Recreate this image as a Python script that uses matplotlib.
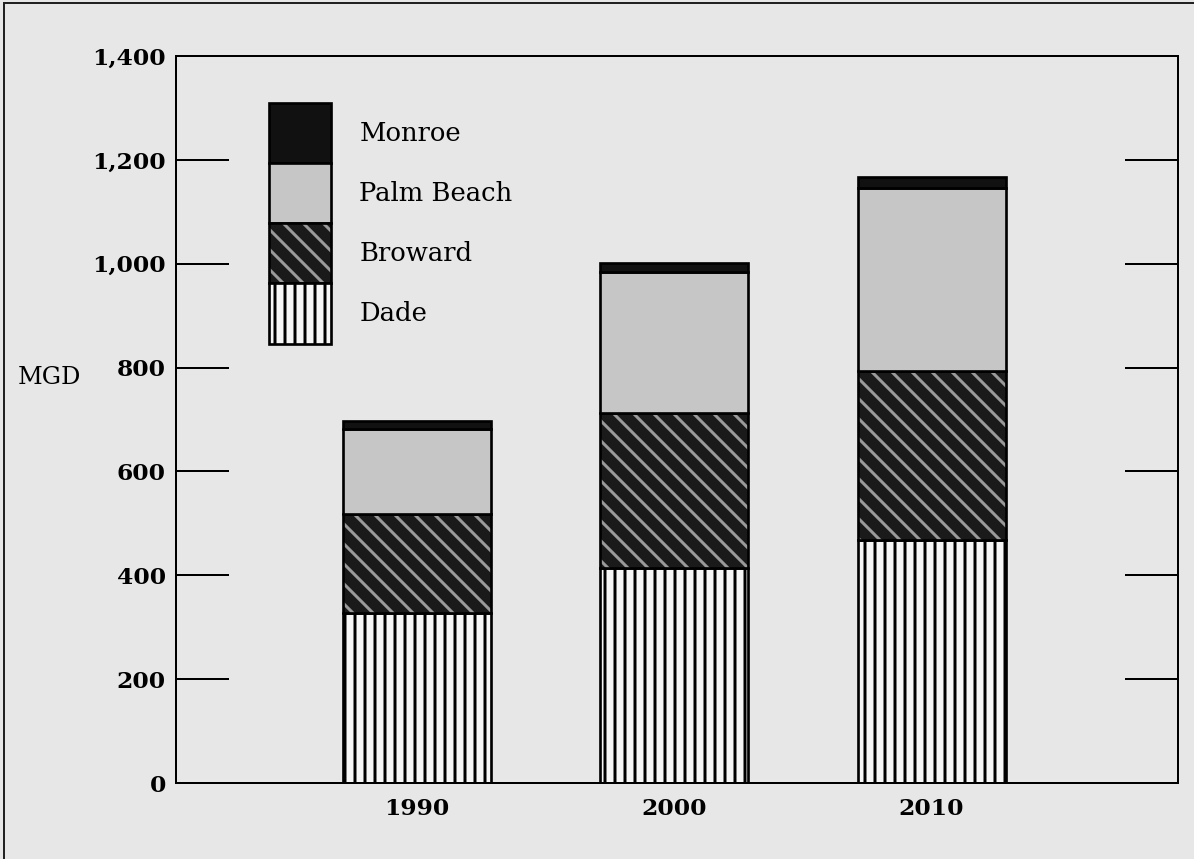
import matplotlib.pyplot as plt
import matplotlib.patches as mpatches
from matplotlib.legend_handler import HandlerTuple
from matplotlib.lines import Line2D
import numpy as np

# Residential self-supplied water use, Lower East Coast counties (MGD)
years = ['1990', '2000', '2010']
dade = [327, 414, 468]
broward = [191, 298, 325]
palm_beach = [163, 272, 352]
monroe = [16, 17, 22]
yticks = [0, 200, 400, 600, 800, 1000, 1200, 1400]

plt.rcParams['font.family'] = ['DejaVu Serif']
plt.rcParams['hatch.linewidth'] = 1.8

paper = '#e7e7e7'
fig = plt.figure(figsize=(1194 / 120, 859 / 120), dpi=120, facecolor=paper)
ax = fig.add_axes([176 / 1194, 1 - 783 / 859, 1002 / 1194, 727 / 859])
ax.set_facecolor(paper)

x = np.arange(len(years))
w = 0.575
bottoms = np.zeros(len(years))

# each layer: fill style, then a plain black outline on top
styles = {
    'Dade': dict(facecolor='#f7f7f7', edgecolor='black', hatch='||', lw=0),
    'Broward': dict(facecolor='#1a1a1a', edgecolor='#9a9a9a', hatch='\\\\', lw=0),
    'Palm Beach': dict(facecolor='#c6c6c6', edgecolor='#c6c6c6', lw=0),
    'Monroe': dict(facecolor='#111111', edgecolor='#111111', lw=0),
}
layers = [('Dade', dade), ('Broward', broward), ('Palm Beach', palm_beach), ('Monroe', monroe)]

handles = {}
for name, vals in layers:
    ax.bar(x, vals, w, bottom=bottoms, **styles[name])
    ax.bar(x, vals, w, bottom=bottoms, fill=False, edgecolor='black', lw=1.6)
    bottoms += np.array(vals)
    handles[name] = (mpatches.Patch(**styles[name]),
                     mpatches.Patch(fill=False, edgecolor='black', lw=1.6))

order = ['Monroe', 'Palm Beach', 'Broward', 'Dade']
ax.legend([handles[n] for n in order], order,
          handler_map={tuple: HandlerTuple(ndivide=1, pad=0)},
          loc='upper left', bbox_to_anchor=(0.0928, 0.935),
          frameon=False, fontsize=15.5, labelspacing=0,
          handlelength=2.4, handleheight=3.2, handletextpad=1.1,
          borderpad=0, borderaxespad=0)

ax.set_xlim(-0.937, 2.958)
ax.set_ylim(0, 1400)
ax.set_xticks(x)
ax.set_xticklabels(years, fontsize=14, fontweight='bold')
ax.set_yticks(yticks)
ax.set_yticklabels(['{:,}'.format(v) for v in yticks], fontsize=14, fontweight='bold')
ax.tick_params(axis='x', length=0, pad=9)
ax.tick_params(axis='y', direction='in', length=32, width=1.2, pad=6,
               right=True, labelright=False)
for sp in ax.spines.values():
    sp.set_linewidth(1.2)

fig.text(18 / 1194, 1 - 377 / 859, 'MGD', fontsize=14.5, ha='left', va='center')

# page border from the scanned document
fig.add_artist(Line2D([4 / 1194, 4 / 1194], [0, 1 - 3 / 859], color='#222222', lw=1.2))
fig.add_artist(Line2D([4 / 1194, 1], [1 - 3 / 859, 1 - 3 / 859], color='#222222', lw=1.2))

fig.savefig('out.png', dpi=120, facecolor=paper)
